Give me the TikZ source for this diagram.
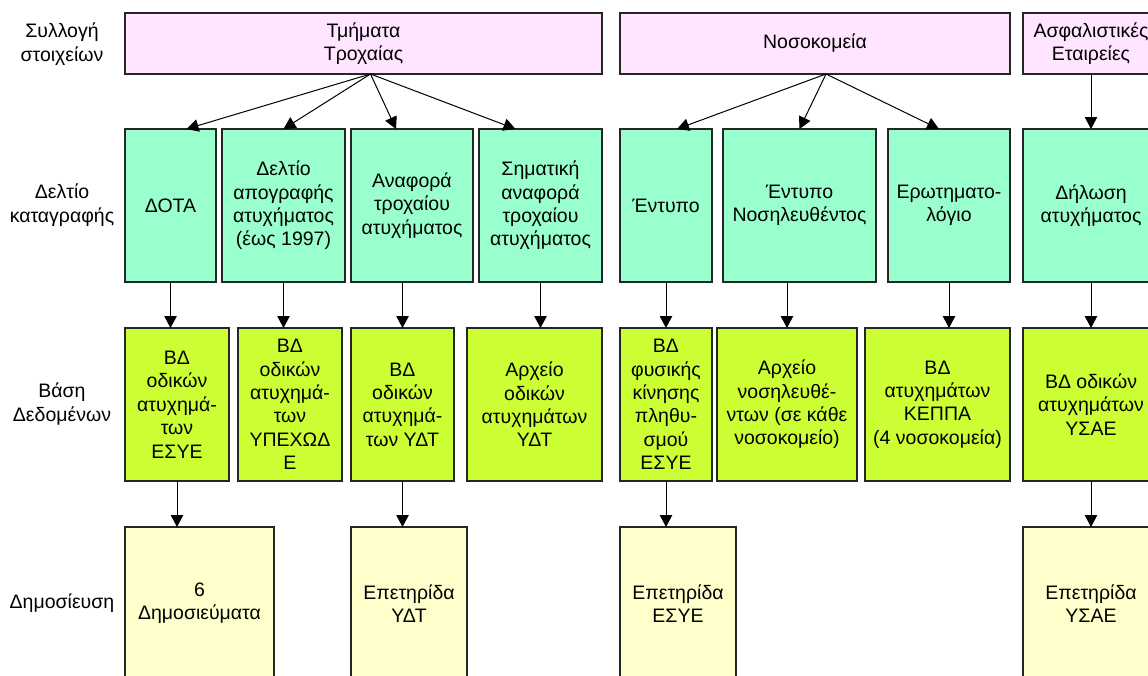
\documentclass[tikz,border=0pt]{standalone}
\usepackage{fontspec}
\setmainfont{Liberation Sans}
\usetikzlibrary{positioning, arrows.meta}
\definecolor{srcpink}{HTML}{FFE5FF}
\definecolor{formgreen}{HTML}{99FFCC}
\definecolor{dblime}{HTML}{CCFF33}
\definecolor{pubyellow}{HTML}{FFFFCC}
\tikzset{
  box/.style={draw=black!85, line width=1.1pt, outer sep=0pt, minimum height=153pt, align=center, inner sep=1pt, font=\fontsize{19.5}{23.4}\selectfont},
  source/.style={box, fill=srcpink, minimum height=61pt},
  form/.style={box, fill=formgreen},
  dbase/.style={box, fill=dblime},
  publ/.style={box, fill=pubyellow},
  rowlbl/.style={align=center, font=\fontsize{19.5}{23.4}\selectfont},
  arr/.style={-{Triangle[length=12pt, width=12.5pt]}, line width=1pt}
}
\begin{document}
\begin{tikzpicture}[x=1pt, y=1pt]
\useasboundingbox (0,0) rectangle (1148,-675);
% row labels
\node[rowlbl] (lsrc) at (62,-44) {Συλλογή\\στοιχείων};
\node[rowlbl] (lform) at (62,-205) {Δελτίο\\καταγραφής};
\node[rowlbl] (ldb) at (62,-404) {Βάση\\Δεδομένων};
\node[rowlbl] (lpub) at (62,-603) {Δημοσίευση};
% sources
\node[source, minimum width=477pt, anchor=north west] (roads) at (125,-13) {Τμήματα\\Τροχαίας};
\node[source, minimum width=390pt, right=18pt of roads] (hosp) {Νοσοκομεία};
\node[source, minimum width=136pt, right=13pt of hosp] (insur) {Ασφαλιστικές\\Εταιρείες};
% forms
\node[form, minimum width=91pt, below=55pt of roads.south west, anchor=north west] (dota) {ΔΟΤΑ};
\node[form, minimum width=123pt, right=6pt of dota] (delt) {Δελτίο\\απογραφής\\ατυχήματος\\(έως 1997)};
\node[form, minimum width=122pt, right=6pt of delt] (anaf) {Αναφορά\\τροχαίου\\ατυχήματος};
\node[form, minimum width=123pt, right=6pt of anaf] (simat) {Σηματική\\αναφορά\\τροχαίου\\ατυχήματος};
\node[form, minimum width=92pt, right=18pt of simat] (entypo) {Έντυπο};
\node[form, minimum width=153pt, right=11pt of entypo] (nosil) {Έντυπο\\Νοσηλευθέντος};
\node[form, minimum width=122pt, right=12pt of nosil] (erot) {Ερωτηματο-\\λόγιο};
\node[form, minimum width=136pt, right=13pt of erot] (dilosi) {Δήλωση\\ατυχήματος};
% databases
\node[dbase, minimum width=104pt, below=46pt of dota.south west, anchor=north west] (esye) {ΒΔ\\οδικών\\ατυχημά-\\των\\ΕΣΥΕ};
\node[dbase, minimum width=104pt, right=9pt of esye] (ypex) {ΒΔ\\οδικών\\ατυχημά-\\των\\ΥΠΕΧΩΔ\\Ε};
\node[dbase, minimum width=103pt, right=9pt of ypex] (ydt) {ΒΔ\\οδικών\\ατυχημά-\\των ΥΔΤ};
\node[dbase, minimum width=135pt, right=13pt of ydt] (arxydt) {Αρχείο\\οδικών\\ατυχημάτων\\ΥΔΤ};
\node[dbase, minimum width=92pt, right=18pt of arxydt] (fysik) {ΒΔ\\φυσικής\\κίνησης\\πληθυ-\\σμού\\ΕΣΥΕ};
\node[dbase, minimum width=140pt, right=5pt of fysik] (arxnos) {Αρχείο\\νοσηλευθέ-\\ντων (σε κάθε\\νοσοκομείο)};
\node[dbase, minimum width=145pt, right=8pt of arxnos] (keppa) {ΒΔ\\ατυχημάτων\\ΚΕΠΠΑ\\(4 νοσοκομεία)};
\node[dbase, minimum width=136pt, right=13pt of keppa] (ysae) {ΒΔ οδικών\\ατυχημάτων\\ΥΣΑΕ};
% publications
\node[publ, minimum width=149pt, below=46pt of esye.south west, anchor=north west] (dimos) {6\\Δημοσιεύματα};
\node[publ, minimum width=116pt, right=77pt of dimos] (epydt) {Επετηρίδα\\ΥΔΤ};
\node[publ, minimum width=116pt, right=153pt of epydt] (epesye) {Επετηρίδα\\ΕΣΥΕ};
\node[publ, minimum width=136pt, right=287pt of epesye] (epysae) {Επετηρίδα\\ΥΣΑΕ};
% sources to forms
\draw[arr] ([xshift=7pt]roads.south) -- ([xshift=16pt]dota.north);
\draw[arr] ([xshift=7pt]roads.south) -- (delt.north);
\draw[arr] ([xshift=7pt]roads.south) -- ([xshift=-16pt]anaf.north);
\draw[arr] ([xshift=7pt]roads.south) -- ([xshift=-25pt]simat.north);
\draw[arr] ([xshift=11pt]hosp.south) -- ([xshift=11pt]entypo.north);
\draw[arr] ([xshift=11pt]hosp.south) -- (nosil.north);
\draw[arr] ([xshift=11pt]hosp.south) -- ([xshift=-10pt]erot.north);
\draw[arr] (insur) -- (insur |- dilosi.north);
% forms to databases
\draw[arr] (dota) -- (dota |- esye.north);
\draw[arr] (delt) -- (delt |- ypex.north);
\draw[arr] (anaf.south -| ydt) -- (ydt);
\draw[arr] (simat) -- (simat |- arxydt.north);
\draw[arr] (entypo) -- (entypo |- fysik.north);
\draw[arr] (nosil.south -| arxnos) -- (arxnos);
\draw[arr] (erot) -- (erot |- keppa.north);
\draw[arr] (dilosi) -- (dilosi |- ysae.north);
% databases to publications
\draw[arr] (esye) -- (esye |- dimos.north);
\draw[arr] (ydt) -- (ydt |- epydt.north);
\draw[arr] (fysik) -- (fysik |- epesye.north);
\draw[arr] (ysae) -- (ysae |- epysae.north);
\end{tikzpicture}
\end{document}
